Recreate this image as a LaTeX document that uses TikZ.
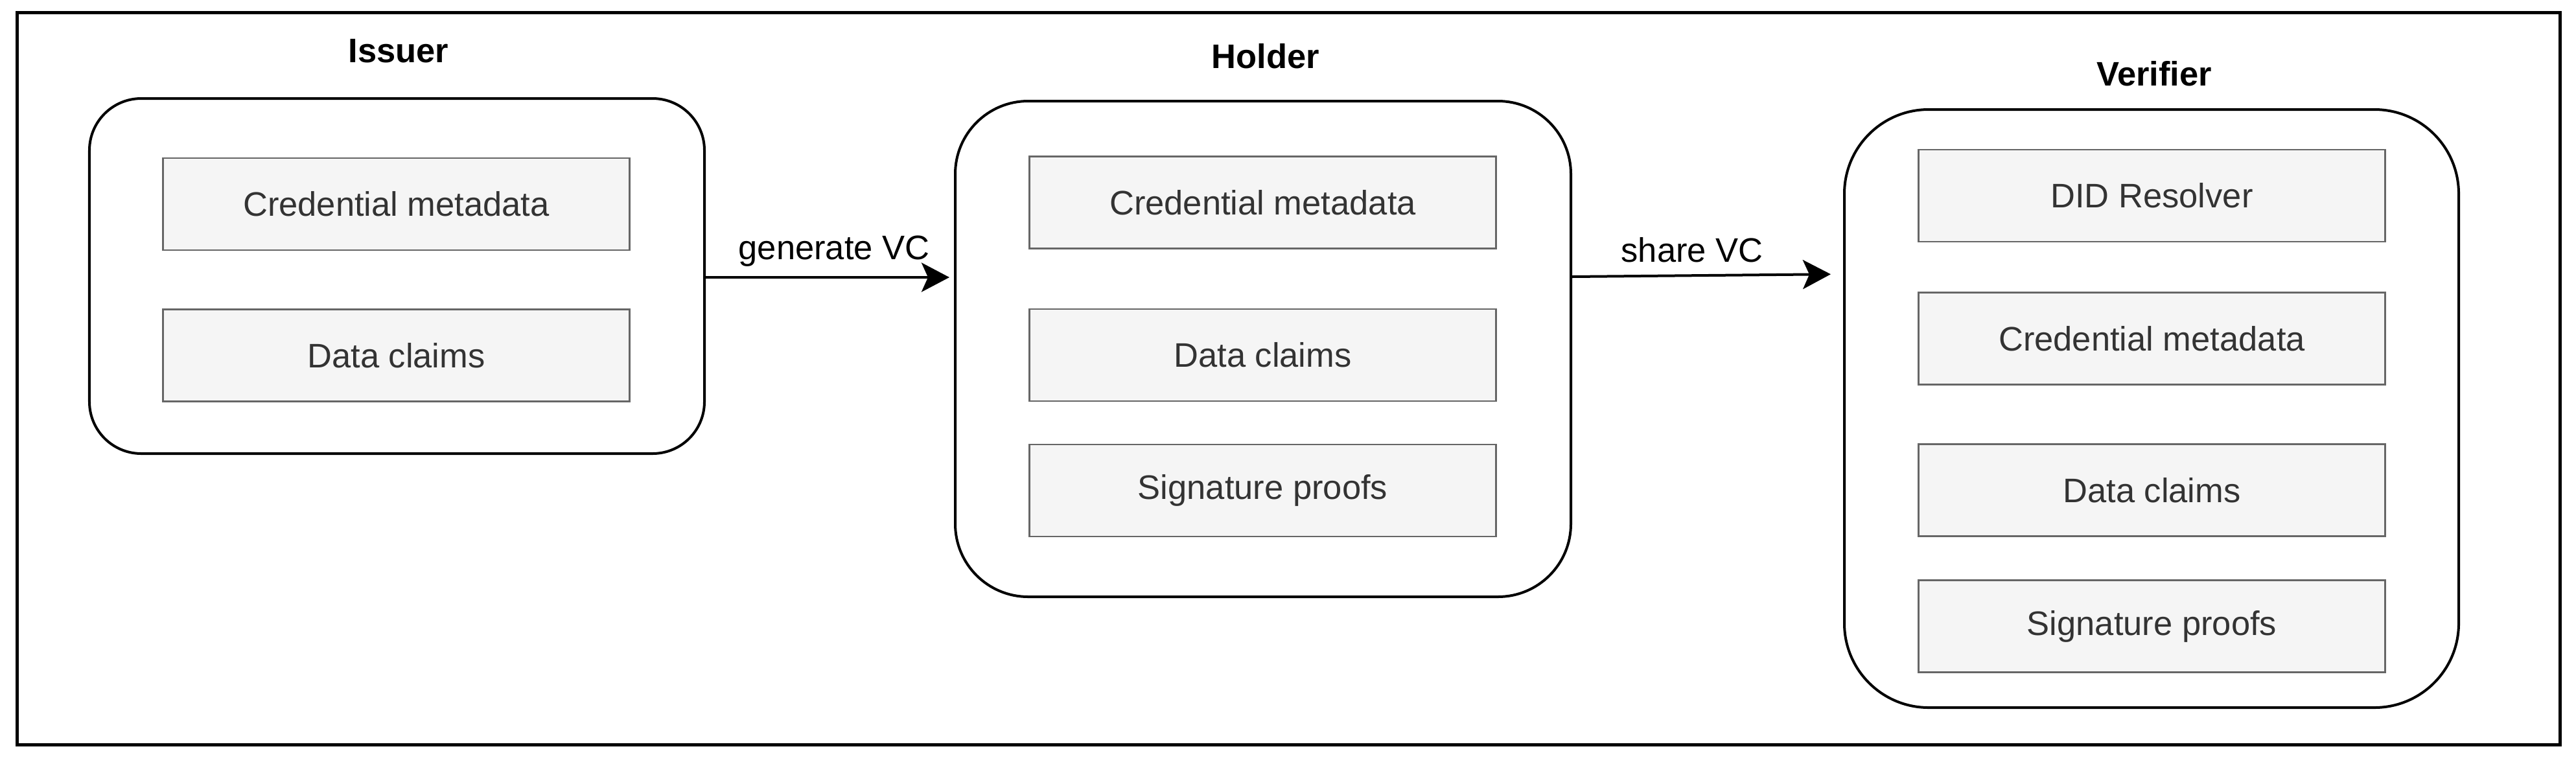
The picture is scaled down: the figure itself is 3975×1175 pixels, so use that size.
\documentclass[tikz,border=0pt]{standalone}
\usepackage{fontspec}
\setmainfont{Liberation Sans}
\usepackage{tikz}
\usetikzlibrary{arrows.meta}

\definecolor{itemfill}{RGB}{245,245,245}
\definecolor{itemline}{RGB}{102,102,102}
\definecolor{itemtext}{RGB}{51,51,51}

\begin{document}
\begin{tikzpicture}[x=0.2pt,y=0.2pt,yscale=-1,xscale=1,
  party/.style={draw=black,line width=0.8pt,fill=white,inner sep=0pt},
  item/.style={draw=itemline,fill=itemfill,text=itemtext,line width=0.5pt,inner sep=0pt,
    minimum width=144pt,minimum height=28.4pt,font=\fontsize{10.5}{12}\selectfont},
  title/.style={anchor=base,inner sep=0pt,font=\fontsize{10.5}{12}\selectfont\bfseries},
  flowlabel/.style={anchor=base,inner sep=0pt,font=\fontsize{10.5}{12}\selectfont},
  flow/.style={line width=0.8pt,-{Stealth[length=8.6pt,width=9pt,inset=2pt]}}]
%set diagram left start at 0, and has height of 1175
\useasboundingbox (0,0) rectangle (3975,1175);

%Outer frame
\draw [line width=1pt] (26.5,19.5) rectangle (3950.5,1149.5);

%Rounded Rect Issuer
\node [party,minimum width=189.8pt,minimum height=109.6pt,rounded corners=16pt] (issuer) at (612.5,426) {};
\node [item] (issuerMeta) at (611.5,315) {Credential metadata};
\node [item] (issuerClaims) at (611.5,548.5) {Data claims};

%Rounded Rect Holder
\node [party,minimum width=190pt,minimum height=153pt,rounded corners=22.5pt] (holder) at (1949,538.5) {};
\node [item] (holderMeta) at (1948.5,312.5) {Credential metadata};
\node [item] (holderClaims) at (1948.5,548) {Data claims};
\node [item] (holderProofs) at (1948.5,757) {Signature proofs};

%Rounded Rect Verifier
\node [party,minimum width=189.6pt,minimum height=184.6pt,rounded corners=26pt] (verifier) at (3320,630.5) {};
\node [item] (verifierDid) at (3320.5,302) {DID Resolver};
\node [item] (verifierMeta) at (3320.5,522.5) {Credential metadata};
\node [item] (verifierClaims) at (3320.5,756.5) {Data claims};
\node [item] (verifierProofs) at (3320.5,966.5) {Signature proofs};

% Text Node
\node [title] (issuerTitle) at (615,96) {Issuer};
% Text Node
\node [title] (holderTitle) at (1953,105) {Holder};
% Text Node
\node [title] (verifierTitle) at (3324,132) {Verifier};

%Straight Lines
\draw [flow,shorten >=1.4pt] (issuer.east |- 0,428) -- (holder.west |- 0,428);
%Straight Lines
\draw [flow,shorten >=3.8pt] (holder.east |- 0,427) -- (verifier.west |- 0,423);

% Text Node
\node [flowlabel] (generateLabel) at (1287,400) {generate VC};
% Text Node
\node [flowlabel] (shareLabel) at (2611,404) {share VC};

\end{tikzpicture}
\end{document}
